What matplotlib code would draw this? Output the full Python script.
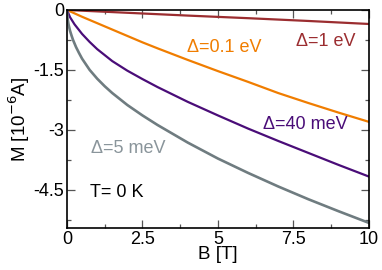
import matplotlib
matplotlib.use("Agg")
import matplotlib.pyplot as plt
from matplotlib.ticker import MultipleLocator, FixedLocator

plt.rcParams['font.family'] = ['Liberation Sans', 'DejaVu Sans']

# Data
B_red = [0, 2, 4, 6, 8, 10]
M_red = [0, -0.07, -0.14, -0.205, -0.275, -0.35]

B_orange = [0, 0.5, 1, 1.5, 2, 2.5, 3, 4, 5, 6, 7, 8, 9, 10]
M_orange = [0, -0.17, -0.33, -0.49, -0.65, -0.81, -0.96, -1.25, -1.53, -1.80, -2.08, -2.33, -2.57, -2.80]

B_purple = [0, 0.1, 0.25, 0.5, 0.75, 1.0, 1.5, 2.0, 2.5, 3.0, 4.0, 5.0, 6.0, 7.0, 8.0, 9.0, 10.0]
M_purple = [0, -0.18, -0.36, -0.6, -0.8, -0.98, -1.28, -1.52, -1.73, -1.93, -2.30, -2.64, -2.97, -3.28, -3.58, -3.88, -4.17]

B_gray = [0, 0.02, 0.05, 0.1, 0.15, 0.2, 0.3, 0.4, 0.5, 0.75, 1.0, 1.25, 1.5, 2.0, 2.5, 3.0, 4.0, 5.0, 6.0, 7.0, 8.0, 9.0, 10.0]
M_gray = [0, -0.22, -0.36, -0.52, -0.64, -0.75, -0.93, -1.08, -1.22, -1.5, -1.72, -1.91, -2.08, -2.38, -2.64, -2.88, -3.32, -3.72, -4.08, -4.42, -4.74, -5.04, -5.33]

x_ticks = [0, 2.5, 5, 7.5, 10]
x_labels = ['0', '2.5', '5', '7.5', '10']
y_ticks = [0, -1.5, -3, -4.5]
y_labels = ['0', '-1.5', '-3', '-4.5']

c_red = '#9b2d30'
c_orange = '#f07d00'
c_purple = '#4a0d78'
c_gray = '#6f7c80'

fig = plt.figure(figsize=(3.82, 2.70), dpi=100)
ax = fig.add_axes([0.1754, 0.1556, 0.7898, 0.8074])

lw = 1.6
ax.plot(B_red, M_red, color=c_red, lw=lw)
ax.plot(B_orange, M_orange, color=c_orange, lw=lw)
ax.plot(B_purple, M_purple, color=c_purple, lw=lw)
ax.plot(B_gray, M_gray, color=c_gray, lw=lw + 0.3)

ax.set_xlim(0, 10)
ax.set_ylim(-5.46, 0)

ax.xaxis.set_major_locator(FixedLocator(x_ticks))
ax.set_xticklabels(x_labels)
ax.xaxis.set_minor_locator(MultipleLocator(1.25))
ax.yaxis.set_major_locator(FixedLocator(y_ticks))
ax.set_yticklabels(y_labels)
ax.yaxis.set_minor_locator(MultipleLocator(0.75))

ax.tick_params(which='both', direction='in', top=True, right=True,
               color='#555555', labelsize=13)
ax.tick_params(which='major', length=6, width=0.9, pad=2)
ax.tick_params(which='minor', length=3, width=0.9)
for s in ax.spines.values():
    s.set_linewidth(1.2)
    s.set_color('black')

ax.set_xlabel('B [T]', fontsize=13.5, labelpad=-1)
ax.set_ylabel('M [10$^{-6}$A]', fontsize=13.5, labelpad=1)

fs = 13
ax.text(3.97, -0.93, 'Δ=0.1 eV', color=c_orange, fontsize=fs, ha='left', va='center')
ax.text(7.59, -0.80, 'Δ=1 eV', color=c_red, fontsize=fs, ha='left', va='center')
ax.text(6.5, -2.86, 'Δ=40 meV', color=c_purple, fontsize=fs, ha='left', va='center')
ax.text(0.79, -3.46, 'Δ=5 meV', color='#8a959b', fontsize=fs, ha='left', va='center')
ax.text(0.76, -4.56, 'T= 0 K', color='black', fontsize=fs, ha='left', va='center')

fig.savefig('out.png', dpi=100)
